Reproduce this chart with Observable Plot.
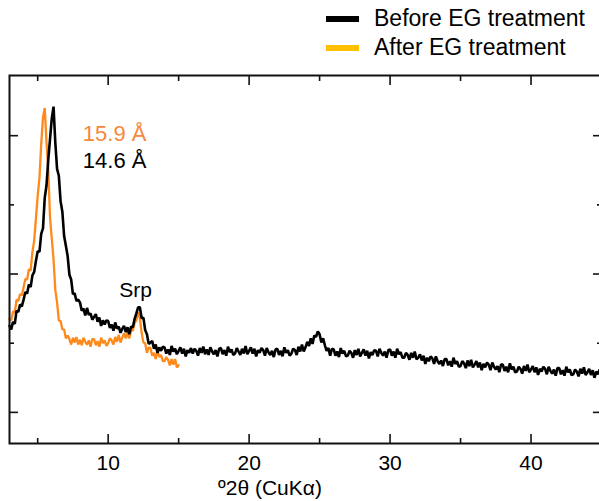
<!DOCTYPE html>
<html><head><meta charset="utf-8">
<script src="https://cdn.jsdelivr.net/npm/d3@7"></script>
<script src="https://cdn.jsdelivr.net/npm/@observablehq/plot@0.6"></script>
<style>
html,body{margin:0;padding:0;background:#fff;overflow:hidden;}
#wrap{position:relative;width:599px;height:501px;font-family:"Liberation Sans",Arial,sans-serif;color:#000;}
#legend{position:absolute;left:326px;top:4px;font-size:23px;line-height:29px;}
.row{display:flex;align-items:center;height:29px;}
.sw{width:33px;height:6px;margin-right:15px;}
#xtitle{position:absolute;left:170px;width:200px;text-align:center;top:477px;font-size:21px;line-height:22px;}
</style>
</head><body>
<div id="wrap">
  <div id="chart"></div>
  <div id="legend"></div>
  <div id="xtitle">º2θ (CuKα)</div>
</div>
<script>
// Series: intensity (arbitrary units) sampled every 0.125 °2θ starting at 3 °2θ
const seriesNames = ["Before EG treatment", "After EG treatment"];
const lineColors = ["#000000", "#ff8a1c"];
const legendColors = ["#000000", "#ffc000"];
const startAngle = 3.0;
const stepAngle = 0.125;

const beforeIntensity = [
  2.25, 2.20, 2.31, 2.28, 2.47, 2.45, 2.56, 2.53,
  2.63, 2.74, 2.72, 2.85, 2.81, 2.98, 3.03, 3.19,
  3.33, 3.32, 3.58, 3.66, 4.10, 4.28, 4.65, 4.95,
  5.25, 5.42, 4.90, 4.52, 4.42, 4.05, 3.90, 3.55,
  3.41, 3.26, 2.99, 2.92, 2.71, 2.72, 2.61, 2.63,
  2.59, 2.47, 2.50, 2.40, 2.51, 2.41, 2.43, 2.34,
  2.38, 2.42, 2.31, 2.37, 2.25, 2.33, 2.27, 2.33,
  2.32, 2.22, 2.27, 2.18, 2.30, 2.21, 2.24, 2.15,
  2.21, 2.25, 2.16, 2.23, 2.13, 2.24, 2.23, 2.35,
  2.43, 2.52, 2.52, 2.36, 2.37, 2.19, 2.13, 1.99,
  2.01, 2.03, 1.92, 1.98, 1.86, 1.94, 1.89, 1.95,
  1.94, 1.85, 1.91, 1.83, 1.96, 1.88, 1.92, 1.84,
  1.89, 1.94, 1.85, 1.92, 1.81, 1.90, 1.86, 1.93,
  1.85, 1.92, 1.89, 1.82, 1.93, 1.86, 1.95, 1.84,
  1.91, 1.83, 1.94, 1.88, 1.84, 1.90, 1.81, 1.92,
  1.93, 1.84, 1.90, 1.82, 1.95, 1.87, 1.91, 1.83,
  1.85, 1.93, 1.88, 1.83, 1.92, 1.85, 1.96, 1.84,
  1.89, 1.94, 1.85, 1.92, 1.81, 1.90, 1.86, 1.93,
  1.90, 1.82, 1.93, 1.87, 1.83, 1.89, 1.80, 1.91,
  1.92, 1.83, 1.89, 1.81, 1.94, 1.86, 1.90, 1.82,
  1.85, 1.92, 1.90, 1.83, 1.95, 1.88, 1.98, 1.88,
  1.94, 2.02, 1.96, 2.07, 1.99, 2.11, 2.09, 2.17,
  2.13, 2.01, 2.07, 1.97, 1.89, 1.93, 1.82, 1.92,
  1.91, 1.82, 1.88, 1.80, 1.93, 1.85, 1.89, 1.81,
  1.82, 1.89, 1.86, 1.79, 1.90, 1.83, 1.92, 1.81,
  1.86, 1.91, 1.82, 1.89, 1.78, 1.87, 1.83, 1.90,
  1.89, 1.81, 1.92, 1.86, 1.82, 1.88, 1.79, 1.90,
  1.91, 1.82, 1.88, 1.79, 1.92, 1.84, 1.87, 1.79,
  1.79, 1.86, 1.83, 1.76, 1.86, 1.79, 1.88, 1.77,
  1.79, 1.84, 1.75, 1.82, 1.70, 1.79, 1.74, 1.81,
  1.78, 1.70, 1.81, 1.74, 1.70, 1.75, 1.67, 1.77,
  1.77, 1.68, 1.74, 1.66, 1.79, 1.70, 1.74, 1.66,
  1.67, 1.74, 1.71, 1.64, 1.75, 1.67, 1.76, 1.65,
  1.69, 1.74, 1.65, 1.72, 1.61, 1.70, 1.65, 1.72,
  1.69, 1.61, 1.72, 1.66, 1.62, 1.67, 1.58, 1.69,
  1.69, 1.60, 1.66, 1.58, 1.71, 1.62, 1.66, 1.58,
  1.59, 1.66, 1.63, 1.56, 1.67, 1.60, 1.69, 1.58,
  1.62, 1.67, 1.58, 1.65, 1.54, 1.63, 1.59, 1.66,
  1.63, 1.55, 1.66, 1.60, 1.56, 1.62, 1.53, 1.64,
  1.64, 1.55, 1.61, 1.53, 1.66, 1.58, 1.62, 1.54,
  1.55, 1.62, 1.59, 1.52, 1.63, 1.56, 1.65, 1.54,
  1.58, 1.63, 1.54, 1.61, 1.50, 1.59, 1.55, 1.62,
  1.57
];

const afterIntensity = [
  2.35, 2.33, 2.46, 2.44, 2.63, 2.61, 2.71, 2.69,
  2.81, 2.93, 2.92, 3.07, 3.05, 3.32, 3.48, 3.80,
  4.13, 4.39, 4.88, 5.26, 5.40, 4.91, 4.50, 3.82,
  3.51, 3.21, 2.77, 2.59, 2.33, 2.32, 2.20, 2.20,
  2.07, 2.11, 2.06, 1.98, 2.08, 2.01, 2.09, 1.98,
  2.05, 1.97, 2.08, 2.02, 1.98, 2.04, 1.95, 2.06,
  2.06, 1.97, 2.03, 1.95, 2.08, 2.00, 2.04, 1.96,
  2.00, 2.07, 2.04, 1.98, 2.09, 2.02, 2.12, 2.01,
  2.08, 2.14, 2.07, 2.16, 2.07, 2.19, 2.18, 2.29,
  2.33, 2.45, 2.36, 2.15, 2.01, 2.00, 1.86, 1.94,
  1.93, 1.82, 1.86, 1.77, 1.89, 1.80, 1.83, 1.74,
  1.74, 1.80, 1.76, 1.68, 1.77, 1.69, 1.77, 1.65,
  1.68
];

const xMajorTicks = [10, 20, 30, 40];
const xMinorTicks = [5, 15, 25, 35];
const yMajorTicks = [1, 3, 5];
const yMinorTicks = [2, 4];

const peakLabels = ["15.9 Å", "14.6 Å"];
const peakLabelAngles = [8.2, 8.2];
const peakLabelLevels = [5.03, 4.64];
const peakLabelColors = ["#f5883c", "#000000"];
const srpLabel = ["Srp"];
const srpAngle = [11.95];
const srpLevel = [2.76];

const toRows = (arr) => arr.map((v, i) => ({angle: startAngle + i * stepAngle, intensity: v}));
const before = toRows(beforeIntensity);
const after = toRows(afterIntensity);
const peakNotes = peakLabels.map((t, i) => ({text: t, angle: peakLabelAngles[i], level: peakLabelLevels[i], color: peakLabelColors[i]}));
const srpNotes = srpLabel.map((t, i) => ({text: t, angle: srpAngle[i], level: srpLevel[i]}));

const tickStyle = {tickFormat: () => "", label: null, strokeWidth: 1.6, stroke: "#111"};

const chart = Plot.plot({
  width: 599,
  height: 501,
  marginLeft: 9,
  marginRight: -2,
  marginTop: 75,
  marginBottom: 58,
  style: {fontFamily: '"Liberation Sans", Arial, sans-serif', color: "#000", background: "#fff"},
  x: {domain: [3, 45], label: null},
  y: {domain: [0.55, 5.87], label: null},
  marks: [
    Plot.line(after, {x: "angle", y: "intensity", stroke: lineColors[1], strokeWidth: 2.3, strokeLinejoin: "miter"}),
    Plot.line(before, {x: "angle", y: "intensity", stroke: lineColors[0], strokeWidth: 2.6, strokeLinejoin: "miter"}),
    Plot.axisX(xMajorTicks, {anchor: "bottom", tickSize: -9, ...tickStyle}),
    Plot.axisX(xMinorTicks, {anchor: "bottom", tickSize: -5, ...tickStyle}),
    Plot.axisX(xMajorTicks, {anchor: "top", tickSize: -9, ...tickStyle}),
    Plot.axisX(xMinorTicks, {anchor: "top", tickSize: -5, ...tickStyle}),
    Plot.axisY(yMajorTicks, {anchor: "left", tickSize: -9, ...tickStyle}),
    Plot.axisY(yMinorTicks, {anchor: "left", tickSize: -5, ...tickStyle}),
    Plot.axisY(yMajorTicks, {anchor: "right", tickSize: -9, ...tickStyle}),
    Plot.axisY(yMinorTicks, {anchor: "right", tickSize: -5, ...tickStyle}),
    Plot.axisX(xMajorTicks, {anchor: "bottom", tickSize: 0, tickPadding: 12, fontSize: 21, label: null, fill: "#000"}),
    Plot.frame({stroke: "#111", strokeWidth: 2}),
    Plot.text(peakNotes, {x: "angle", y: "level", text: "text", fill: "color", textAnchor: "start", fontSize: 22}),
    Plot.text(srpNotes, {x: "angle", y: "level", text: "text", fill: "#000", textAnchor: "middle", fontSize: 21})
  ]
});
document.getElementById("chart").appendChild(chart);

const legend = document.getElementById("legend");
seriesNames.forEach((name, i) => {
  const row = document.createElement("div");
  row.className = "row";
  const sw = document.createElement("div");
  sw.className = "sw";
  sw.style.background = legendColors[i];
  const label = document.createElement("span");
  label.textContent = name;
  row.appendChild(sw);
  row.appendChild(label);
  legend.appendChild(row);
});
</script>
</body></html>
